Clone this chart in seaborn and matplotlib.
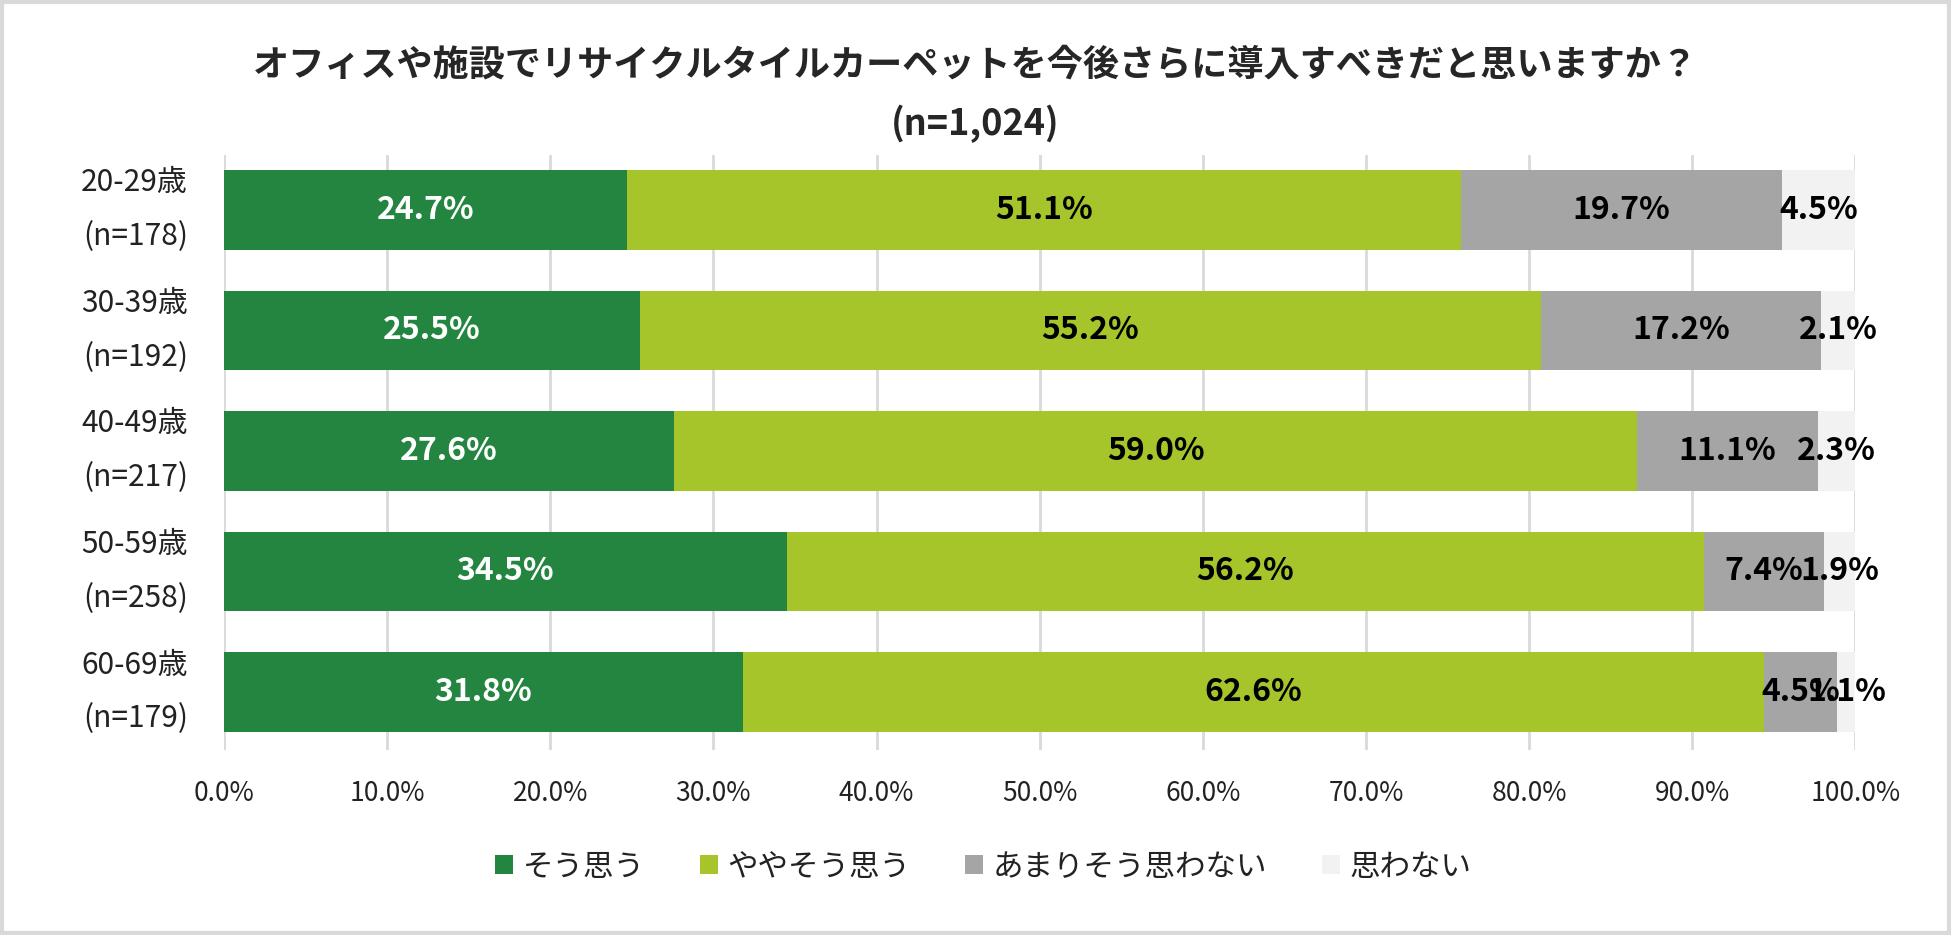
import matplotlib
matplotlib.use("Agg")
import matplotlib.pyplot as plt
import seaborn as sns
import numpy as np
import pandas as pd
from matplotlib.patches import Patch, Rectangle

# ---- data ----
title_line1 = "オフィスや施設でリサイクルタイルカーペットを今後さらに導入すべきだと思いますか？"
title_line2 = "(n=1,024)"
categories = ["20-29歳\n(n=178)", "30-39歳\n(n=192)", "40-49歳\n(n=217)",
              "50-59歳\n(n=258)", "60-69歳\n(n=179)"]
series_names = ["そう思う", "ややそう思う", "あまりそう思わない", "思わない"]
v_agree = [24.7, 25.5, 27.6, 34.5, 31.8]
v_some = [51.1, 55.2, 59.0, 56.2, 62.6]
v_notmuch = [19.7, 17.2, 11.1, 7.4, 4.5]
v_not = [4.5, 2.1, 2.3, 1.9, 1.1]
xticks = [0, 10, 20, 30, 40, 50, 60, 70, 80, 90, 100]
colors = ["#238540", "#A5C52A", "#A5A5A5", "#F2F2F2"]
label_colors = ["white", "black", "black", "black"]

sns.set_theme(style="white")
plt.rcParams['font.family'] = ['Noto Sans CJK JP', 'DejaVu Sans']

fig = plt.figure(figsize=(19.51, 9.35), dpi=100)
ax = fig.add_axes([0.1148, 0.198, 0.951 - 0.1148, 0.8337 - 0.198])

vals = [v_agree, v_some, v_notmuch, v_not]
cum = np.zeros(len(categories))
cums = []
for v in vals:
    cum = cum + np.array(v)
    cums.append(cum.copy())

for i in reversed(range(4)):
    d = pd.DataFrame({"cat": categories, "val": cums[i]})
    sns.barplot(data=d, x="val", y="cat", orient="h", color=colors[i],
                width=0.66, ax=ax, saturation=1, zorder=2, linewidth=0)

for i in range(4):
    for j in range(len(categories)):
        center = cums[i][j] - vals[i][j] / 2
        ax.text(center, j, f"{vals[i][j]:.1f}%", ha="center", va="center",
                fontsize=23, fontweight="bold", color=label_colors[i], zorder=5)

ax.set_xlim(0, 100)
ax.set_ylim(4.48, -0.45)
ax.set_xticks(xticks)
ax.set_xticklabels([f"{t:.1f}%" for t in xticks], fontsize=19, color="#222222")
ax.tick_params(axis="x", length=0, pad=22)
ax.tick_params(axis="y", length=0, pad=26)
for lab in ax.get_yticklabels():
    lab.set_fontsize(21.5)
    lab.set_linespacing(1.95)
    lab.set_color("#222222")
    lab.set_verticalalignment("center")
ax.set_xlabel("")
ax.set_ylabel("")
ax.grid(axis="x", color="#D9D9D9", linewidth=2, zorder=0)
ax.set_axisbelow(True)
for s in ax.spines.values():
    s.set_visible(False)

fig.text(0.5, 1 - 65 / 935, title_line1, ha="center", va="center",
         fontsize=26, fontweight="bold")
fig.text(0.5, 1 - 124 / 935, title_line2, ha="center", va="center",
         fontsize=26, fontweight="bold")

handles = [Patch(facecolor=c, edgecolor="none", label=n) for c, n in zip(colors, series_names)]
fig.legend(handles=handles, loc="center", bbox_to_anchor=(0.504, 1 - 867 / 935),
           ncol=4, frameon=False, fontsize=22, handlelength=0.6, handleheight=0.6,
           handletextpad=0.3, columnspacing=1.8, labelcolor="#222222")

fig.patches.append(Rectangle((0.001, 0.002), 0.998, 0.996, transform=fig.transFigure,
                             fill=False, edgecolor="#D9D9D9", linewidth=3))

fig.savefig("out.png", dpi=100)
